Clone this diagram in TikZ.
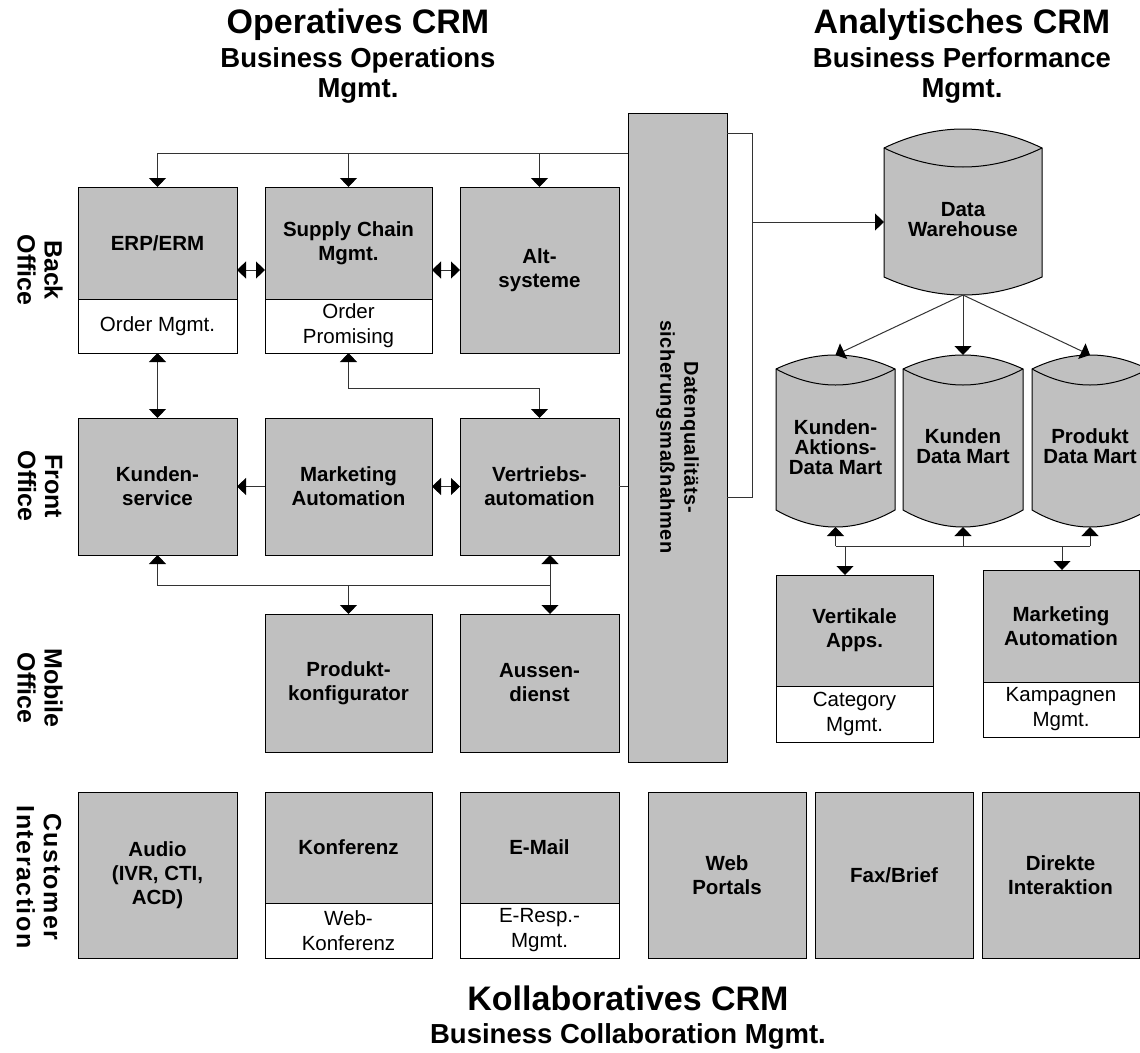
\documentclass[tikz,border=0pt]{standalone}
\usepackage{fontspec}
\setmainfont{Liberation Sans}
\usetikzlibrary{arrows.meta}
\definecolor{boxgray}{HTML}{C0C0C0}
\definecolor{conngray}{HTML}{333333}
% two-part box: name, x1, x2, y1, ydiv, y2, top text, bottom text
\newcommand\mkTwoBox[8]{%
  \node[wpart, minimum width={#3-#2}, minimum height={#6-#5}] (#1-b) at ({(#2+#3)/2},{(#5+#6)/2}) {#8};
  \node[gpart, minimum width={#3-#2}, minimum height={#5-#4}] (#1-t) at ({(#2+#3)/2},{(#4+#5)/2}) {#7};
  \node[framebox, minimum width={#3-#2}, minimum height={#6-#4}] (#1) at ({(#2+#3)/2},{(#4+#6)/2}) {};
}
% one-part box: name, x1, x2, y1, y2, text
\newcommand\mkOneBox[6]{%
  \node[gpart, minimum width={#3-#2}, minimum height={#5-#4}] (#1) at ({(#2+#3)/2},{(#4+#5)/2}) {#6};
}
% cylinder: name, x1, x2, ytop, ycorner, yfront, ycornerbottom, ybottom
\newcommand\mkCyl[8]{%
  \pgfmathsetmacro\cylxa{#2+(#3-#2)/3}
  \pgfmathsetmacro\cylxb{#3-(#3-#2)/3}
  \pgfmathsetmacro\cylyt{#5+(#4-#5)*4/3}
  \pgfmathsetmacro\cylyf{#5+(#6-#5)*4/3}
  \pgfmathsetmacro\cylyb{#7+(#8-#7)*4/3}
  \path[cylbody] (#2,#5) .. controls (\cylxa,\cylyt) and (\cylxb,\cylyt) .. (#3,#5)
     -- (#3,#7) .. controls (\cylxb,\cylyb) and (\cylxa,\cylyb) .. (#2,#7) -- cycle;
  \draw[cylline] (#2,#5) .. controls (\cylxa,\cylyf) and (\cylxb,\cylyf) .. (#3,#5);
  \node[minimum width={#3-#2}, minimum height={#8-#4}] (#1) at ({(#2+#3)/2},{(#4+#8)/2}) {};
}
\begin{document}
\begin{tikzpicture}[x=1pt,y=-1pt,
  every node/.style={inner sep=0pt, outer sep=0pt},
  gpart/.style={draw=black, line width=1pt, fill=boxgray, align=center,
    font=\fontsize{20.5}{24}\selectfont\bfseries},
  wpart/.style={draw=black, line width=1pt, fill=white, align=center,
    font=\fontsize{20.5}{25}\selectfont},
  framebox/.style={draw=black, line width=1pt},
  cylbody/.style={draw=black, line width=1pt, fill=boxgray},
  cylline/.style={draw=black, line width=1pt},
  cyltext/.style={align=center, font=\fontsize{20.5}{20}\selectfont\bfseries},
  conn/.style={draw=conngray, line width=1pt},
  tip/.style={-{Triangle[width=17pt,length=9pt,color=black]}},
  dtip/.style={{Triangle[width=17pt,length=9pt,color=black]}-{Triangle[width=17pt,length=9pt,color=black]}},
  rowlabel/.style={rotate=-90, align=center, font=\fontsize{25}{27}\selectfont\bfseries},
  bigtitle/.style={anchor=base, font=\fontsize{34}{36}\selectfont\bfseries},
  subtitle/.style={anchor=base, font=\fontsize{27.5}{30}\selectfont\bfseries},
  bartext/.style={rotate=-90, align=center, font=\fontsize{20}{24}\selectfont\bfseries\addfontfeature{LetterSpace=2.5}}
]
\useasboundingbox (0,0) rectangle (1140,1052);
\fill[white] (0,0) rectangle (1140,1052);

% titles
\node[bigtitle] (t1) at (358,33) {Operatives CRM};
\node[subtitle] (t1a) at (358,67) {Business Operations};
\node[subtitle] (t1b) at (358,97) {Mgmt.};
\node[bigtitle] (t2) at (962,33) {Analytisches CRM};
\node[subtitle] (t2a) at (962,67) {Business Performance};
\node[subtitle] (t2b) at (962,97) {Mgmt.};
\node[bigtitle] (t3) at (628,1010) {Kollaboratives CRM};
\node[subtitle] (t3a) at (628,1043) {Business Collaboration Mgmt.};

% row labels
\node[rowlabel] (lb1) at (40,270) {Back\\Office};
\node[rowlabel] (lb2) at (40,486) {Front\\Office};
\node[rowlabel] (lb3) at (40,688) {Mobile\\Office};
\node[rowlabel, font=\fontsize{25}{27}\selectfont\bfseries\addfontfeature{LetterSpace=6}] (lb4) at (39,877) {Customer\\Interaction};

% left grid
\mkTwoBox{erp}{78}{237}{187}{299}{353}{ERP/ERM}{Order Mgmt.}
\mkTwoBox{scm}{265}{432}{187}{299}{353}{Supply Chain\\Mgmt.}{Order\\Promising}
\mkOneBox{alt}{460}{619}{187}{353}{Alt-\\systeme}
\mkOneBox{ks}{78}{237}{418}{555}{Kunden-\\service}
\mkOneBox{ma}{265}{432}{418}{555}{Marketing\\Automation}
\mkOneBox{vt}{460}{619}{418}{555}{Vertriebs-\\automation}
\mkOneBox{pk}{265}{432}{614}{752}{Produkt-\\konfigurator}
\mkOneBox{ad}{460}{619}{614}{752}{Aussen-\\dienst}

% bottom row
\mkOneBox{au}{78}{237}{792}{958}{Audio\\(IVR, CTI,\\ACD)}
\mkTwoBox{ko}{265}{432}{792}{903}{958}{Konferenz}{Web-\\Konferenz}
\mkTwoBox{em}{460}{619}{792}{903}{958}{E-Mail}{E-Resp.-\\Mgmt.}
\mkOneBox{wp}{648}{806}{792}{958}{Web\\Portals}
\mkOneBox{fb}{815}{973}{792}{958}{Fax/Brief}
\mkOneBox{di}{982}{1139}{792}{958}{Direkte\\Interaktion}

% central bar
\mkOneBox{bar}{628}{727}{113}{762}{}
\node[bartext] (bart) at (677.5,437) {Datenqualitäts-\\sicherungsmaßnahmen};

% analytic side
\mkCyl{dw}{884}{1042}{129}{148}{167}{277}{295}
\node[cyltext] (dwt) at (963,220) {Data\\Warehouse};
\mkCyl{km}{776}{895}{355}{369}{385}{510}{527}
\node[cyltext] (kmt) at (835.5,447) {Kunden-\\Aktions-\\Data Mart};
\mkCyl{mm}{903}{1023}{355}{369}{385}{510}{527}
\node[cyltext] (mmt) at (963,446) {Kunden\\Data Mart};
\mkCyl{pm}{1032}{1148}{355}{369}{385}{510}{527}
\node[cyltext] (pmt) at (1090,446) {Produkt\\Data Mart};
\mkTwoBox{va}{776}{933}{575}{686}{742}{Vertikale\\Apps.}{Category\\Mgmt.}
\mkTwoBox{mr}{983}{1139}{570}{682}{737}{Marketing\\Automation}{Kampagnen\\Mgmt.}

% connectors, operative side
\coordinate (ytop) at (0,153);
\draw[conn,tip] (bar.west |- ytop) -| (erp.north);
\draw[conn,tip] (scm.north |- ytop) -- (scm.north);
\draw[conn,tip] (alt.north |- ytop) -- (alt.north);
\draw[conn,dtip] (erp.east) -- (scm.west);
\draw[conn,dtip] (scm.east) -- (alt.west);
\draw[conn,dtip] (erp.south) -- (ks.north);
\draw[conn,dtip] (scm.south) -- ++(0,35) -| (vt.north);
\draw[conn,tip] (ma.west) -- (ks.east);
\draw[conn,dtip] (ma.east) -- (vt.west);
\draw[conn] (vt.east) -- (vt.east -| bar.west);
\coordinate (hub) at (550,585);
\draw[conn,tip] (hub) -| (ks.south);
\draw[conn,tip] (hub) -- (hub |- vt.south);
\draw[conn,tip] (hub) -- (hub |- ad.north);
\draw[conn,tip] (pk.north |- hub) -- (pk.north);

% bracket to data warehouse
\coordinate (brt) at (752,133);
\coordinate (brb) at (752,497);
\coordinate (brm) at (752,222);
\draw[conn] (bar.east |- brt) -- (brt) -- (brb) -- (bar.east |- brb);
\draw[conn,tip] (brm) -- (brm -| dw.west);

% data warehouse to marts
\draw[conn,tip] (dw.south) -- (km.north);
\draw[conn,tip] (dw.south) -- (mm.north);
\draw[conn,tip] (dw.south) -- (pm.north);

% marts to apps
\coordinate (bl) at (0,546);
\draw[conn] (km.south |- bl) -- (pm.south |- bl);
\draw[conn,tip] (km.south |- bl) -- (km.south);
\draw[conn,tip] (mm.south |- bl) -- (mm.south);
\draw[conn,tip] (pm.south |- bl) -- (pm.south);
\coordinate (d1) at (845,546);
\coordinate (d2) at (1062,546);
\draw[conn,tip] (d1) -- (d1 |- va.north);
\draw[conn,tip] (d2) -- (d2 |- mr.north);
\end{tikzpicture}
\end{document}
